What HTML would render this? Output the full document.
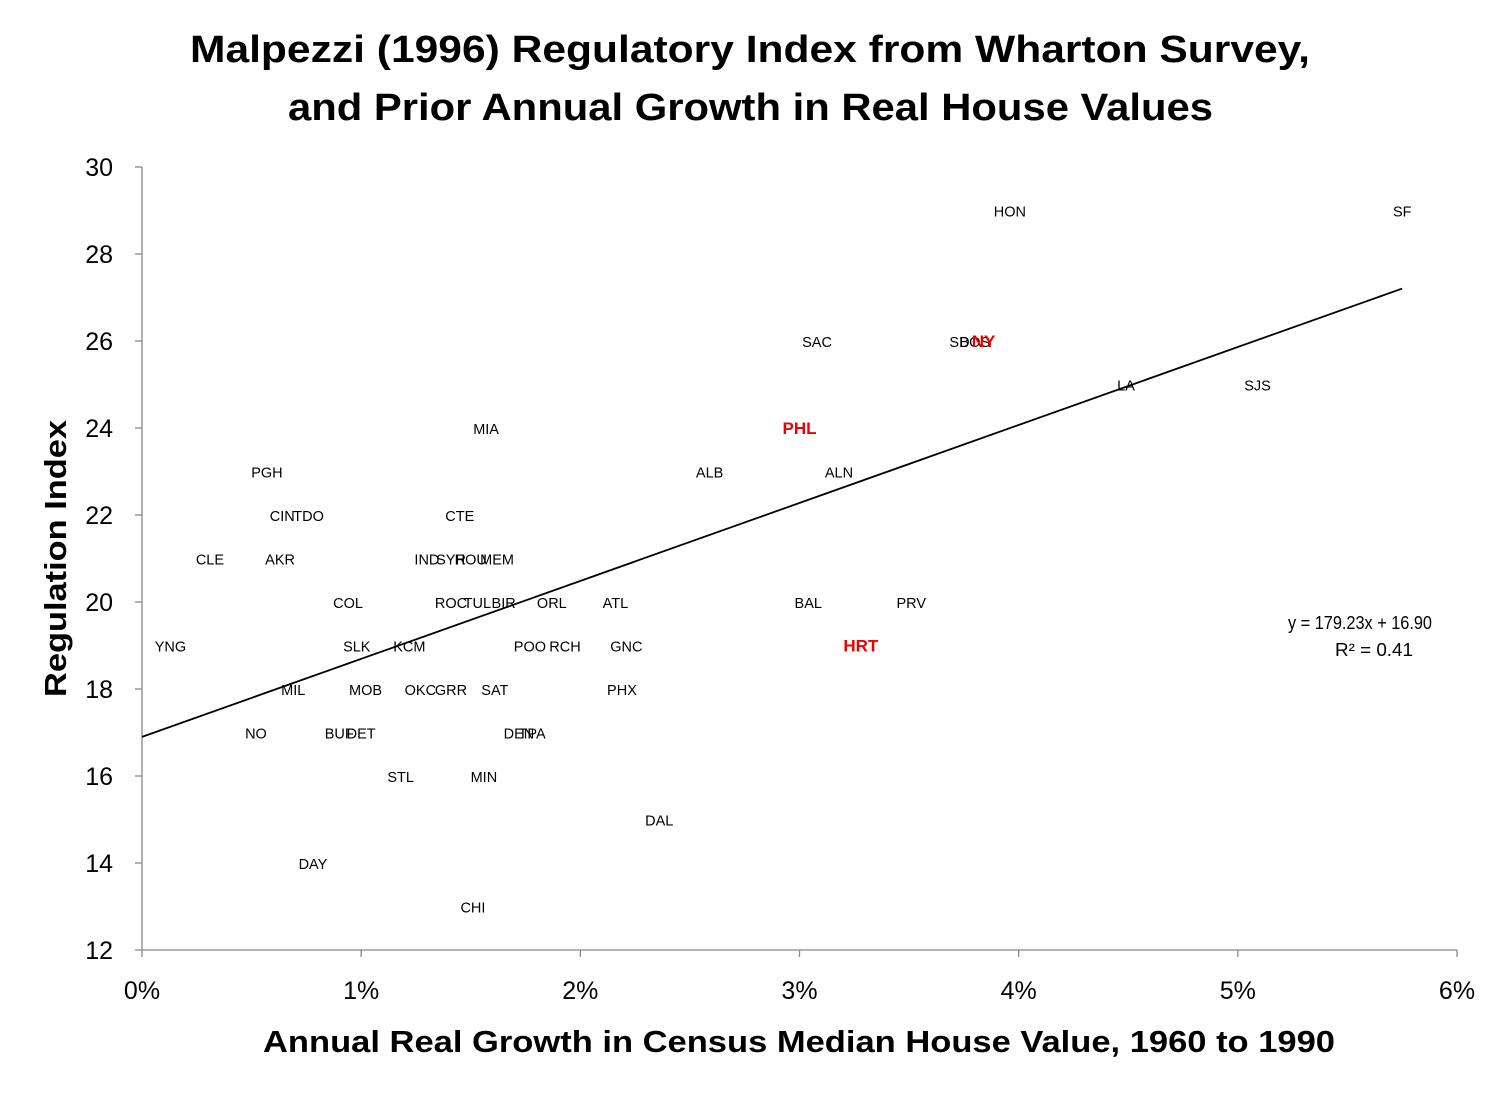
<!DOCTYPE html>
<html><head><meta charset="utf-8"><style>
html,body{margin:0;padding:0;background:#fff}
svg text{font-family:"Liberation Sans",sans-serif}
</style></head><body>
<svg id="chart" width="1500" height="1090" xmlns="http://www.w3.org/2000/svg">
<text x="190" y="62" textLength="1120" lengthAdjust="spacingAndGlyphs" font-size="38" font-weight="bold">Malpezzi (1996) Regulatory Index from Wharton Survey,</text>
<text x="288" y="120" textLength="925" lengthAdjust="spacingAndGlyphs" font-size="38" font-weight="bold">and Prior Annual Growth in Real House Values</text>
<text transform="translate(66,697) rotate(-90)" textLength="277" lengthAdjust="spacingAndGlyphs" font-size="31" font-weight="bold">Regulation Index</text>
<text x="263" y="1052" textLength="1072" lengthAdjust="spacingAndGlyphs" font-size="31" font-weight="bold">Annual Real Growth in Census Median House Value, 1960 to 1990</text>
<g id="axes"></g>
<g id="marks"></g>
<text x="1288" y="629" textLength="144" lengthAdjust="spacingAndGlyphs" font-size="18">y = 179.23x + 16.90</text>
<text x="1335" y="656" textLength="78" lengthAdjust="spacingAndGlyphs" font-size="18">R² = 0.41</text>
</svg>
<script>
const labels=["YNG","CLE","PGH","CIN","TDO","AKR","NO","MIL","DAY","COL","SLK","MOB","BUF","DET","STL","KCM","IND","SYR","HOU","MEM","OKC","GRR","ROC","TUL","BIR","CTE","MIA","CHI","MIN","SAT","DEN","TPA","POO","RCH","ORL","ATL","GNC","PHX","DAL","ALB","SAC","PHL","ALN","BAL","HRT","PRV","HON","SD","BOS","NY","LA","SJS","SF"];
const growth=[0.13,0.31,0.57,0.64,0.76,0.63,0.52,0.69,0.78,0.94,0.98,1.02,0.90,1.00,1.18,1.22,1.30,1.41,1.50,1.62,1.27,1.41,1.41,1.53,1.65,1.45,1.57,1.51,1.56,1.61,1.72,1.78,1.77,1.93,1.87,2.16,2.21,2.19,2.36,2.59,3.08,3.00,3.18,3.04,3.28,3.51,3.96,3.73,3.80,3.84,4.49,5.09,5.75];
const regIndex=[19,21,23,22,22,21,17,18,14,20,19,18,17,17,16,19,21,21,21,21,18,18,20,20,20,22,24,13,16,18,17,17,19,19,20,20,19,18,15,23,26,24,23,20,19,20,29,26,26,26,25,25,29];
const highlight=["PHL","HRT","NY"];
const xTicks=[0,1,2,3,4,5,6];
const yTicks=[12,14,16,18,20,22,24,26,28,30];
const slope=1.7923, intercept=16.90;
const X=v=>142+v*(1457-142)/6;
const Y=v=>950-(v-12)*(950-167)/18;
const NS="http://www.w3.org/2000/svg";
const axes=document.getElementById('axes'), marks=document.getElementById('marks');
function mk(tag,attrs,parent,txt){const e=document.createElementNS(NS,tag);for(const k in attrs)e.setAttribute(k,attrs[k]);if(txt!==undefined)e.textContent=txt;parent.appendChild(e);return e;}
let e=mk('line',{x1:142,y1:Y(30),x2:142,y2:950,stroke:'#888','stroke-width':1.3},axes);


e=mk('line',{x1:142,y1:950,x2:1457,y2:950,stroke:'#888','stroke-width':1.3},axes);


yTicks.forEach(t=>{
 let l=mk('line',{x1:135,x2:142,y1:Y(t),y2:Y(t),stroke:'#888','stroke-width':1.3},axes);
 
 
 let s=mk('text',{x:113,y:Y(t)+9,'text-anchor':'end','font-size':25},axes,String(t));
 
 
});
xTicks.forEach(t=>{
 let l=mk('line',{x1:X(t),x2:X(t),y1:950,y2:957,stroke:'#888','stroke-width':1.3},axes);
 
 
 let s=mk('text',{x:X(t),y:999,'text-anchor':'middle','font-size':25},axes,t+'%');
 
 
});
const tl=mk('line',{x1:X(0),y1:Y(intercept),x2:X(5.75),y2:Y(intercept+slope*5.75),stroke:'#000','stroke-width':1.8},marks);


labels.forEach((lab,i)=>{
 const red=highlight.includes(lab);
 const t=mk('text',{x:X(growth[i]),y:Y(regIndex[i])+6,'text-anchor':'middle','font-size':red?17:14.5,'font-weight':red?'bold':'normal',fill:red?'#e00':'#000'},marks,lab);
 
 
});
</script>
</body></html>
